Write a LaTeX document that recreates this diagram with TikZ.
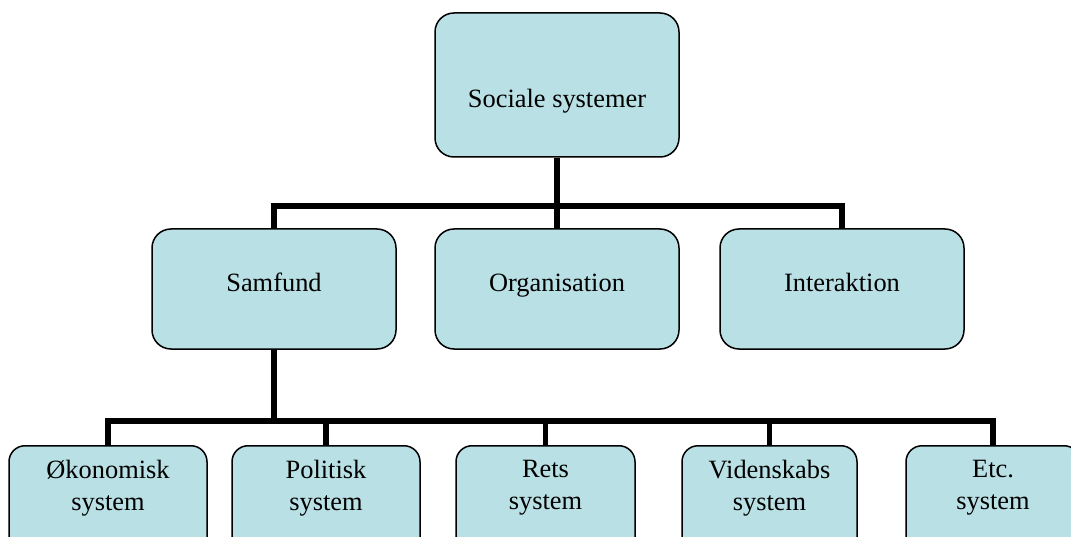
\documentclass[tikz,border=0pt]{standalone}
\usepackage{fontspec}
\setmainfont{Liberation Serif}
\usetikzlibrary{positioning}

\definecolor{boxfill}{RGB}{185,224,228}

\begin{document}
\begin{tikzpicture}[x=1pt,y=-1pt,line join=miter,
                    font=\fontsize{26.4pt}{32pt}\selectfont]

  \tikzstyle{unit}=[rectangle,draw,line width=1.5pt,fill=boxfill,
                    rounded corners=19pt,align=center,inner sep=0pt]
  \tikzstyle{top box}=[unit,minimum width=244pt,minimum height=144pt,
                       text height=56pt,text depth=10pt]
  \tikzstyle{mid box}=[unit,minimum width=244pt,minimum height=120pt,
                       text height=18pt,text depth=12.6pt]
  \tikzstyle{low box}=[unit,anchor=north,rounded corners=16pt,
                       inner ysep=14pt,text depth=100pt]
  \tikzstyle{link}=[line width=5.5pt]

  \useasboundingbox (0,0) rectangle (1071,537);

  \node[top box] (SS) at (557,85)  {Sociale systemer};

  \node[mid box] (SA) at (274,289) {Samfund};
  \node[mid box] (OR) at (557,289) {Organisation};
  \node[mid box] (IN) at (842,289) {Interaktion};

  \node[low box,minimum width=198pt] (OK) at (108,445)   {Økonomisk\\system};
  \node[low box,minimum width=188pt] (PO) at (326,445)   {Politisk\\system};
  \node[low box,minimum width=179pt] (RE) at (545.5,445) {Rets\\system};
  \node[low box,minimum width=175pt] (VI) at (769.5,445) {Videnskabs\\system};
  \node[low box,minimum width=174pt] (ET) at (993,445)   {Etc.\\system};

  \coordinate (H1) at (557,206);
  \coordinate (H2) at (274,421);

  % first level
  \draw[link] (SS.south) -- (H1);
  \draw[link] (SA.north) |- (H1) -| (IN.north);
  \draw[link] (H1) -- (OR.north);

  % second level
  \draw[link] (SA.south) -- (H2);
  \draw[link] (OK.north) |- (H2) -| (ET.north);
  \foreach \n in {PO,RE,VI}
    \draw[link] (\n.north) -- (\n.north |- H2);
\end{tikzpicture}
\end{document}
